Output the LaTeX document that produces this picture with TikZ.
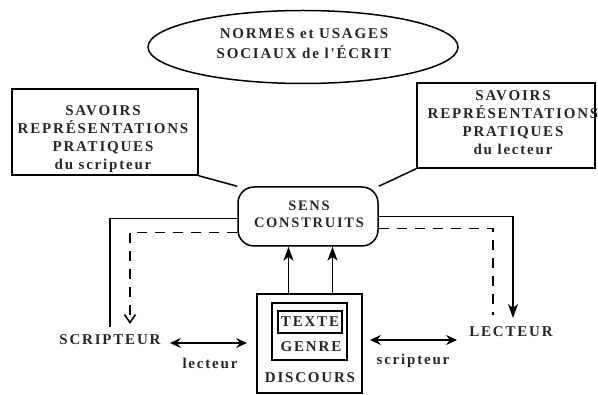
\documentclass[tikz,border=0pt]{standalone}
\usepackage{fontspec}
\newfontfamily\figfont{Liberation Serif}[LetterSpace=12]
\usetikzlibrary{shapes.geometric,arrows.meta}
\tikzset{
  txt/.style={font=\figfont\bfseries\fontsize{15}{18}\selectfont, align=center, inner sep=3pt, text=black!85},
  frame/.style={draw, line width=1.5pt},
  conn/.style={line width=1.5pt},
  dashconn/.style={line width=1.5pt, dash pattern=on 10pt off 8pt},
  tip/.style={-{Stealth[length=14pt,width=10pt,inset=4pt]}},
  dtip/.style={{Stealth[length=11pt,width=10pt,inset=4pt]}-{Stealth[length=11pt,width=10pt,inset=4pt]}},
  vtip/.style={-{Straight Barb[length=8pt,width=11pt,line width=1.6pt]}}
}
\begin{document}
\begin{tikzpicture}[x=1pt,y=-1pt]
\useasboundingbox (0,0) rectangle (598,395);
% ellipse
\node[frame, ellipse, minimum width=310pt, minimum height=73pt] (norm) at (303,47) {};
\node[txt, font=\figfont\bfseries\fontsize{15}{20}\selectfont] (normt) at (304,44) {NORMES et USAGES\\SOCIAUX de l'ÉCRIT};
% side boxes
\node[frame, minimum width=186pt, minimum height=86pt] (lbox) at (105,132) {};
\node[txt] (lboxt) at (103,139) {SAVOIRS\\REPRÉSENTATIONS\\PRATIQUES\\du scripteur};
\node[frame, minimum width=178pt, minimum height=85pt] (rbox) at (506,125.5) {};
\node[txt] (rboxt) at (513,123) {SAVOIRS\\REPRÉSENTATIONS\\PRATIQUES\\du lecteur};
% sens construits
\node[frame, rounded corners=16pt, minimum width=140pt, minimum height=59pt] (sens) at (308,216.5) {};
\node[txt, font=\figfont\bfseries\fontsize{14.5}{17}\selectfont] (senst) at (309,214) {SENS\\CONSTRUITS};
\draw[conn] (lbox.south east) -- (sens.north west);
\draw[conn] (sens.north east) -- (rbox.south west);
% discours
\node[frame, minimum width=105pt, minimum height=99pt] (disc) at (309.5,343.5) {};
\node[frame, minimum width=75pt, minimum height=57pt] (genrebox) at (309.5,331.5) {};
\node[frame, minimum width=64pt, minimum height=22pt, inner sep=0pt, txt] (texte) at (310,322) {TEXTE};
\node[txt] (genre) at (311,347) {GENRE};
\node[txt] (discours) at (310,378) {DISCOURS};
\draw[conn, tip] ([xshift=-21pt]disc.north) -- ([xshift=-21pt]disc.north |- sens.south);
\draw[conn, tip] ([xshift=23pt]disc.north) -- ([xshift=23pt]disc.north |- sens.south);
% scripteur / lecteur
\node[txt] (scr) at (110,340) {SCRIPTEUR};
\node[txt] (lec) at (511,332) {LECTEUR};
\coordinate (scrtop) at (110,327);
\coordinate (scrd) at (130,324);
\coordinate (lecd) at (493,315);
\coordinate (lectop) at (513,318);
\draw[conn] (scrtop) |- ([yshift=-2pt]sens.west);
\draw[dashconn, vtip] ([yshift=-16pt]sens.west) -| (scrd);
\draw[conn, tip] (sens.east) -| (lectop);
\draw[dashconn] ([yshift=-12pt]sens.east) -| (lecd);
% double arrows
\draw[conn, dtip] (170,343) coordinate (la) -- (247,343) coordinate (lb);
\node[txt] (lectlbl) at (210,363) {lecteur};
\draw[conn, dtip] (370,340) coordinate (ra) -- (457,340) coordinate (rb);
\node[txt] (scrlbl) at (413,361) {scripteur};
\end{tikzpicture}
\end{document}
